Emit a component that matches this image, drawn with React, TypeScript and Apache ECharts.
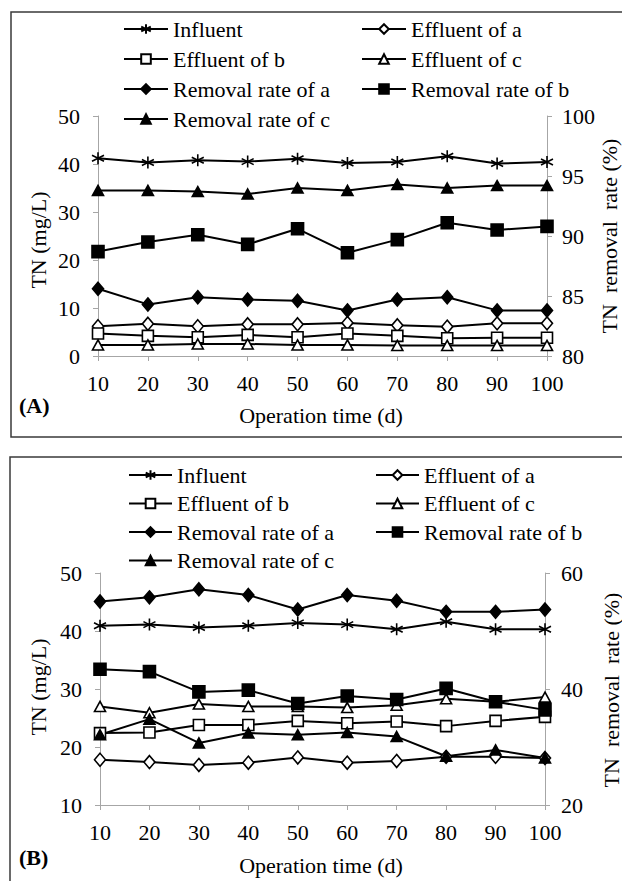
import React, { useEffect, useRef } from "react";
import * as echarts from "echarts";

const days = ["10", "20", "30", "40", "50", "60", "70", "80", "90", "100"];

// Panel A (left axis TN mg/L, right axis removal %)
const aInfluent = [41.2, 40.3, 40.8, 40.5, 41.1, 40.2, 40.4, 41.6, 40.1, 40.4];
const aEffluentA = [6.2, 6.7, 6.2, 6.6, 6.6, 6.9, 6.4, 6.1, 6.8, 6.8];
const aEffluentB = [4.7, 4.2, 3.9, 4.4, 3.9, 4.7, 4.2, 3.7, 3.8, 3.8];
const aEffluentC = [2.3, 2.3, 2.5, 2.5, 2.3, 2.3, 2.2, 2.2, 2.2, 2.2];
const aRemovalA = [85.6, 84.3, 84.9, 84.7, 84.6, 83.8, 84.7, 84.9, 83.8, 83.8];
const aRemovalB = [88.7, 89.5, 90.1, 89.3, 90.6, 88.6, 89.7, 91.1, 90.5, 90.8];
const aRemovalC = [93.8, 93.8, 93.7, 93.5, 94.0, 93.8, 94.3, 94.0, 94.2, 94.2];

// Panel B
const bInfluent = [40.9, 41.1, 40.6, 40.9, 41.4, 41.1, 40.3, 41.6, 40.3, 40.3];
const bEffluentA = [17.8, 17.4, 16.9, 17.3, 18.2, 17.3, 17.6, 18.3, 18.3, 18.1];
const bEffluentB = [22.4, 22.5, 23.8, 23.8, 24.5, 24.1, 24.4, 23.6, 24.5, 25.2];
const bEffluentC = [27.0, 25.9, 27.4, 27.0, 27.0, 26.8, 27.2, 28.3, 27.8, 28.6];
const bRemovalA = [55.1, 55.8, 57.2, 56.2, 53.7, 56.2, 55.2, 53.3, 53.3, 53.7];
const bRemovalB = [43.4, 43.0, 39.5, 39.8, 37.5, 38.8, 38.2, 40.1, 37.8, 36.4];
const bRemovalC = [32.1, 34.8, 30.7, 32.4, 32.1, 32.5, 31.8, 28.4, 29.5, 28.1];

const seriesNames = [
  "Influent",
  "Effluent of a",
  "Effluent of b",
  "Effluent of c",
  "Removal rate of a",
  "Removal rate of b",
  "Removal rate of c",
];
const legendLeftCol = ["Influent", "Effluent of b", "Removal rate of a", "Removal rate of c"];
const legendRightCol = ["Effluent of a", "Effluent of c", "Removal rate of b"];

const FONT = "Liberation Serif";
const FS = 22;
const ASTERISK = "path://M5,0 L5,10 M0.67,2.5 L9.33,7.5 M0.67,7.5 L9.33,2.5";
const AXIS_GRAY = "#a6a6a6";

const markerStyles: Record<string, any> = {
  "Influent": { symbol: ASTERISK, size: 12, fill: "#000" },
  "Effluent of a": { symbol: "diamond", size: [11, 13], fill: "#fff" },
  "Effluent of b": { symbol: "rect", size: 11, fill: "#fff" },
  "Effluent of c": { symbol: "triangle", size: [11, 10], fill: "#fff" },
  "Removal rate of a": { symbol: "diamond", size: [11, 13], fill: "#000" },
  "Removal rate of b": { symbol: "rect", size: 12, fill: "#000" },
  "Removal rate of c": { symbol: "triangle", size: [11, 10], fill: "#000" },
};

function makeSeries(name: string, data: number[], gridIdx: number, rightAxis: boolean) {
  const m = markerStyles[name];
  return {
    name,
    type: "line",
    xAxisIndex: gridIdx,
    yAxisIndex: gridIdx * 2 + (rightAxis ? 1 : 0),
    data,
    symbol: m.symbol,
    symbolSize: m.size,
    showSymbol: true,
    showAllSymbol: true,
    lineStyle: { color: "#000", width: 2 },
    itemStyle: { color: m.fill, borderColor: "#000", borderWidth: 1.6 },
    emphasis: { disabled: true },
  };
}

const axisLabelStyle = { color: "#000", fontFamily: FONT, fontSize: FS };

function makeXAxis(gridIndex: number) {
  return {
    type: "category",
    gridIndex,
    data: days,
    boundaryGap: false,
    axisLine: { lineStyle: { color: AXIS_GRAY, width: 1 } },
    axisTick: { show: true, length: 5, lineStyle: { color: AXIS_GRAY } },
    axisLabel: { ...axisLabelStyle, margin: 16 },
    splitLine: { show: false },
  };
}

function makeYAxis(gridIndex: number, pos: string, min: number, max: number, interval: number, margin: number) {
  return {
    type: "value",
    gridIndex,
    position: pos,
    min,
    max,
    interval,
    axisLine: { show: true, lineStyle: { color: AXIS_GRAY, width: 1 } },
    axisTick: { show: true, length: 5, lineStyle: { color: AXIS_GRAY } },
    axisLabel: { ...axisLabelStyle, margin },
    splitLine: { show: false },
  };
}

function makeLegend(data: string[], left: number, top: number, itemWidth: number, itemGap: number) {
  return {
    data,
    orient: "vertical",
    left,
    top,
    itemWidth,
    itemHeight: 12,
    itemGap,
    padding: 0,
    selectedMode: false,
    lineStyle: { color: "#000", width: 2 },
    textStyle: { color: "#000", fontFamily: FONT, fontSize: FS, lineHeight: FS },
  };
}

function textEl(text: string, x: number, y: number, opts: any = {}) {
  return {
    type: "text",
    x,
    y,
    rotation: opts.rotation || 0,
    silent: true,
    style: {
      text,
      fill: "#000",
      fontFamily: FONT,
      fontSize: FS,
      fontWeight: opts.bold ? "bold" : "normal",
      textAlign: opts.align || "center",
      textVerticalAlign: "middle",
    },
  };
}

export default function App() {
  const ref = useRef<HTMLDivElement>(null);
  useEffect(() => {
    if (!ref.current) return;
    const chart = echarts.init(ref.current, null, { renderer: "svg" });
    const option = {
      animation: false,
      backgroundColor: "#fff",
      textStyle: { fontFamily: FONT },
      grid: [
        { left: 98, top: 116, width: 449, height: 240 },
        { left: 100, top: 573, width: 445, height: 232 },
      ],
      xAxis: [makeXAxis(0), makeXAxis(1)],
      yAxis: [
        makeYAxis(0, "left", 0, 50, 10, 18),
        makeYAxis(0, "right", 80, 100, 5, 15),
        makeYAxis(1, "left", 10, 50, 10, 18),
        makeYAxis(1, "right", 20, 60, 20, 16),
      ],
      legend: [
        makeLegend(legendLeftCol, 123, 18, 44, 8),
        makeLegend(legendRightCol, 361, 18, 44, 8),
        makeLegend(legendLeftCol, 128, 464, 43, 6.5),
        makeLegend(legendRightCol, 375, 464, 43, 6.5),
      ],
      series: [
        makeSeries(seriesNames[0], aInfluent, 0, false),
        makeSeries(seriesNames[1], aEffluentA, 0, false),
        makeSeries(seriesNames[2], aEffluentB, 0, false),
        makeSeries(seriesNames[3], aEffluentC, 0, false),
        makeSeries(seriesNames[4], aRemovalA, 0, true),
        makeSeries(seriesNames[5], aRemovalB, 0, true),
        makeSeries(seriesNames[6], aRemovalC, 0, true),
        makeSeries(seriesNames[0], bInfluent, 1, false),
        makeSeries(seriesNames[1], bEffluentA, 1, false),
        makeSeries(seriesNames[2], bEffluentB, 1, false),
        makeSeries(seriesNames[3], bEffluentC, 1, false),
        makeSeries(seriesNames[4], bRemovalA, 1, true),
        makeSeries(seriesNames[5], bRemovalB, 1, true),
        makeSeries(seriesNames[6], bRemovalC, 1, true),
      ],
      graphic: [
        {
          type: "rect",
          silent: true,
          shape: { x: 11, y: 12, width: 640, height: 425 },
          style: { fill: "none", stroke: "#3a3a3a", lineWidth: 1.5 },
        },
        {
          type: "rect",
          silent: true,
          shape: { x: 10, y: 457, width: 640, height: 450 },
          style: { fill: "none", stroke: "#3a3a3a", lineWidth: 1.5 },
        },
        textEl("(A)", 19, 405, { bold: true, align: "left" }),
        textEl("Operation time (d)", 321, 415),
        textEl("TN (mg/L)", 38, 240, { rotation: Math.PI / 2 }),
        textEl("TN  removal  rate (%)", 609, 236, { rotation: Math.PI / 2 }),
        textEl("(B)", 19, 857, { bold: true, align: "left" }),
        textEl("Operation time (d)", 321, 865),
        textEl("TN (mg/L)", 38, 687, { rotation: Math.PI / 2 }),
        textEl("TN  removal  rate (%)", 611, 690, { rotation: Math.PI / 2 }),
      ],
    };
    chart.setOption(option as any);
    return () => chart.dispose();
  }, []);
  return (
    <div
      ref={ref}
      style={{ position: "fixed", left: 0, top: 0, width: 622, height: 881, background: "#fff" }}
    />
  );
}
